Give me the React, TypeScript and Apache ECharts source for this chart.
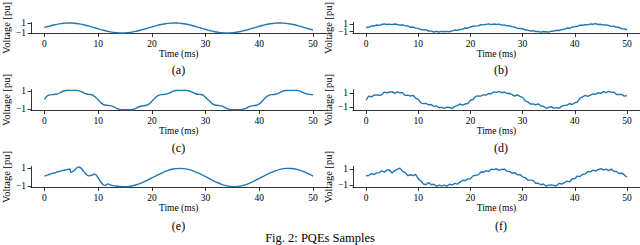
import React, { useEffect, useRef } from "react";
import * as echarts from "echarts";

// sampling instants (ms) for the 0.5 ms series
const times: number[] = Array.from({ length: 101 }, (_, i) => i * 0.5);

const xTicks = [0, 10, 20, 30, 40, 50];
const yTicks = [-1, 0, 1];
const panelLabels = ["(a)", "(b)", "(c)", "(d)", "(e)", "(f)"];
const caption = "Fig. 2: PQEs Samples";

// (a) pure sine
const seriesA = [0.1, 0.25, 0.4, 0.55, 0.67, 0.78, 0.87, 0.94, 0.98, 1.0, 0.99, 0.96, 0.9, 0.82, 0.72, 0.6, 0.46, 0.32, 0.16, 0.0,
  -0.16, -0.32, -0.46, -0.6, -0.72, -0.82, -0.9, -0.96, -0.99, -1.0, -0.98, -0.94, -0.87, -0.78, -0.67, -0.55, -0.4, -0.25, -0.1, 0.06,
  0.22, 0.37, 0.52, 0.65, 0.76, 0.86, 0.93, 0.98, 1.0, 0.99, 0.97, 0.91, 0.84, 0.74, 0.62, 0.49, 0.35, 0.19, 0.03, -0.13,
  -0.28, -0.43, -0.57, -0.7, -0.8, -0.89, -0.95, -0.99, -1.0, -0.99, -0.95, -0.89, -0.8, -0.7, -0.57, -0.43, -0.29, -0.13, 0.03, 0.19,
  0.35, 0.49, 0.62, 0.74, 0.84, 0.91, 0.97, 0.99, 1.0, 0.98, 0.93, 0.86, 0.76, 0.65, 0.52, 0.37, 0.22, 0.06, -0.1, -0.25, -0.4];

// (b) noisy sine
const seriesB = [0.15, 0.19, 0.54, 0.54, 0.8, 0.71, 0.95, 1.12, 0.97, 1.07, 0.92, 1.09, 0.96, 0.77, 0.88, 0.59, 0.55, 0.19, 0.27, -0.02,
  -0.1, -0.43, -0.46, -0.52, -0.82, -0.86, -1.08, -0.92, -1.09, -0.93, -1.04, -0.92, -1.02, -0.78, -0.56, -0.65, -0.4, -0.33, 0.0, -0.05,
  0.28, 0.47, 0.51, 0.58, 0.93, 0.85, 0.98, 1.11, 0.91, 1.1, 1.0, 1.07, 0.79, 0.81, 0.6, 0.64, 0.32, 0.27, -0.09, -0.13,
  -0.2, -0.53, -0.56, -0.83, -0.7, -0.96, -0.95, -1.13, -0.97, -1.02, -1.13, -0.87, -0.85, -0.62, -0.68, -0.43, -0.35, -0.01, -0.08, 0.27,
  0.36, 0.46, 0.76, 0.75, 0.93, 0.84, 1.11, 1.02, 1.18, 0.95, 1.01, 0.8, 0.86, 0.69, 0.45, 0.5, 0.19, 0.15, -0.23, -0.24, -0.48];

// (c) harmonic (flat-top) waveform
const seriesC = [0.05, 0.45, 0.58, 0.62, 0.65, 0.7, 0.85, 1.0, 1.08, 1.1, 1.1, 1.1, 1.1, 1.05, 0.92, 0.75, 0.66, 0.63, 0.55, 0.32,
  0.02, -0.3, -0.52, -0.6, -0.63, -0.68, -0.82, -0.98, -1.07, -1.1, -1.1, -1.1, -1.1, -1.08, -0.97, -0.8, -0.68, -0.64, -0.6, -0.45,
  -0.15, 0.18, 0.45, 0.58, 0.62, 0.65, 0.72, 0.88, 1.02, 1.08, 1.1, 1.1, 1.1, 1.1, 1.03, 0.9, 0.74, 0.66, 0.63, 0.55,
  0.3, 0.0, -0.3, -0.52, -0.6, -0.63, -0.68, -0.83, -0.98, -1.07, -1.1, -1.1, -1.1, -1.1, -1.06, -0.95, -0.78, -0.67, -0.63, -0.6,
  -0.45, -0.15, 0.18, 0.45, 0.58, 0.62, 0.66, 0.75, 0.9, 1.03, 1.08, 1.1, 1.1, 1.1, 1.1, 1.04, 0.9, 0.75, 0.66, 0.63, 0.6];

// (d) noisy harmonic waveform
const seriesD = [-0.01, 0.55, 0.46, 0.67, 0.73, 0.67, 0.75, 1.13, 1.03, 1.11, 1.19, 0.96, 1.16, 1.03, 1.03, 0.66, 0.69, 0.57, 0.67, 0.28,
  0.09, -0.42, -0.52, -0.5, -0.7, -0.64, -0.92, -0.84, -1.1, -1.05, -1.19, -1.02, -1.08, -1.21, -0.91, -0.81, -0.57, -0.72, -0.57, -0.5,
  -0.03, 0.07, 0.52, 0.58, 0.56, 0.75, 0.69, 0.93, 0.9, 1.17, 1.08, 1.23, 1.03, 1.14, 0.93, 0.96, 0.75, 0.57, 0.74, 0.51,
  0.38, -0.13, -0.27, -0.57, -0.55, -0.71, -0.56, -0.86, -0.89, -1.18, -1.06, -0.96, -1.16, -1.08, -1.18, -0.87, -0.77, -0.76, -0.5, -0.64,
  -0.39, -0.29, 0.28, 0.43, 0.65, 0.52, 0.69, 0.86, 0.83, 1.03, 0.95, 1.19, 1.05, 1.22, 1.09, 1.1, 0.79, 0.79, 0.81, 0.55, 0.62];

// (e) transient (own time stamps)
const timesE = [0, 0.5, 1, 1.5, 2, 2.5, 3, 3.5, 4, 4.5, 4.75, 4.9, 5.3, 5.8, 6.3, 6.8, 7.3, 7.8, 8.3, 8.8, 9.3, 9.6, 10, 10.5, 11,
  11.3, 11.8, 12.2, 12.7, 13.5, 14.5, 15.5, 16, 17, 18, 19, 20, 21, 22, 23, 24, 25, 26, 27, 28, 29, 30, 31, 32, 33, 34, 35, 36, 37,
  38, 39, 40, 41, 42, 43, 44, 45, 46, 47, 48, 49, 50];
const seriesE = [0.1, 0.2, 0.3, 0.39, 0.48, 0.57, 0.65, 0.72, 0.79, 0.85, 0.88, 0.5, 0.6, 0.88, 1.1, 0.97, 0.62, 0.28, 0.12, 0.2, 0.3, 0.24, -0.1, -0.55, -0.88,
  -0.92, -0.75, -0.85, -0.95, -1.02, -1.05, -1.05, -1.01, -0.88, -0.67, -0.4, -0.1, 0.21, 0.49, 0.73, 0.88, 0.95, 0.92, 0.8, 0.59, 0.33, 0.03, -0.28, -0.57, -0.8, -0.97, -1.05, -1.03, -0.91,
  -0.72, -0.46, -0.16, 0.15, 0.44, 0.68, 0.86, 0.94, 0.93, 0.83, 0.64, 0.39, 0.09];

// (f) noisy transient
const seriesF = [0.16, 0.19, 0.41, 0.31, 0.51, 0.52, 0.77, 0.61, 0.86, 0.87, 0.49, 0.8, 0.95, 1.1, 0.7, 0.54, 0.16, 0.28, 0.18, 0.32,
  -0.2, -0.49, -0.87, -0.94, -0.69, -0.96, -0.9, -1.15, -1.01, -1.1, -1.0, -1.13, -0.89, -0.99, -0.79, -0.89, -0.63, -0.4, -0.46, -0.23,
  -0.22, 0.14, 0.22, 0.26, 0.62, 0.58, 0.79, 0.67, 0.98, 0.91, 1.02, 0.84, 0.95, 0.98, 0.73, 0.7, 0.46, 0.55, 0.28, 0.3,
  0.02, -0.07, -0.39, -0.39, -0.42, -0.77, -0.78, -0.96, -0.87, -1.14, -1.0, -0.97, -1.06, -1.08, -0.78, -0.87, -0.71, -0.51, -0.6, -0.25,
  -0.18, 0.11, 0.06, 0.33, 0.38, 0.69, 0.64, 0.85, 0.74, 0.91, 1.04, 0.87, 0.97, 0.79, 0.97, 0.71, 0.69, 0.43, 0.47, 0.26, -0.04];

const yLimits: [number, number][] = [
  [-1.1, 1.1], [-1.5, 1.5],
  [-1.2, 1.2], [-1.5, 1.5],
  [-1.15, 1.15], [-1.3, 1.3],
];

const FONT = "Liberation Serif";
const BLUE = "#1f77b4";

export default function App() {
  const ref = useRef<HTMLDivElement>(null);
  useEffect(() => {
    if (!ref.current) return;
    const chart = echarts.init(ref.current, undefined, { renderer: "svg" });
    const colLeft = [30.5, 353];
    const rowTop = [12.5, 89.5, 166.5];
    const W = 296;
    const H = 21;
    const grids: any[] = [];
    const xAxes: any[] = [];
    const yAxes: any[] = [];
    const seriesAll: any[] = [];
    const data: number[][][] = [
      times.map((t, i) => [t, seriesA[i]]),
      times.map((t, i) => [t, seriesB[i]]),
      times.map((t, i) => [t, seriesC[i]]),
      times.map((t, i) => [t, seriesD[i]]),
      timesE.map((t, i) => [t, seriesE[i]]),
      times.map((t, i) => [t, seriesF[i]]),
    ];
    const smoothFor = [0.3, false, 0.3, false, 0.3, false];
    const graphics: any[] = [];
    const labelY = [70, 148, 226];
    for (let k = 0; k < 6; k++) {
      const r = Math.floor(k / 2);
      const c = k % 2;
      grids.push({ left: colLeft[c], top: rowTop[r], width: W, height: H });
      xAxes.push({
        gridIndex: k,
        type: "value",
        min: -2.5,
        max: 52.5,
        name: "Time (ms)",
        nameLocation: "middle",
        nameGap: 14,
        nameTextStyle: { fontFamily: FONT, fontSize: 9.5, fontWeight: "normal", color: "#000" },
        axisLine: { show: true, onZero: false, lineStyle: { color: "#000", width: 0.8 } },
        axisTick: { show: true, length: 3.5, customValues: xTicks, lineStyle: { color: "#000", width: 0.8 } },
        axisLabel: { customValues: xTicks, showMinLabel: true, showMaxLabel: true, hideOverlap: false,
          fontFamily: FONT, fontSize: 9.5, color: "#000", margin: 5 },
        splitLine: { show: false },
      });
      yAxes.push({
        gridIndex: k,
        type: "value",
        min: yLimits[k][0],
        max: yLimits[k][1],
        name: "Voltage [pu]",
        nameLocation: "middle",
        nameGap: 19,
        nameTextStyle: { fontFamily: FONT, fontSize: 10.5, fontWeight: "normal", color: "#000" },
        axisLine: { show: true, onZero: false, lineStyle: { color: "#000", width: 0.8 } },
        axisTick: { show: true, length: 3.5, customValues: yTicks, lineStyle: { color: "#000", width: 0.8 } },
        axisLabel: { customValues: yTicks, showMinLabel: true, showMaxLabel: true, hideOverlap: false,
          fontFamily: FONT, fontSize: 9.5, color: "#000", margin: 5,
          formatter: (v: number) => (v < 0 ? "\u2212" + Math.abs(v) : String(v)) },
        splitLine: { show: false },
      });
      seriesAll.push({
        type: "line",
        xAxisIndex: k,
        yAxisIndex: k,
        data: data[k],
        showSymbol: false,
        smooth: smoothFor[k],
        lineStyle: { color: BLUE, width: 1.4 },
      });
      graphics.push({
        type: "text",
        x: colLeft[c] + W / 2,
        y: labelY[r],
        style: { text: panelLabels[k], fontFamily: FONT, fontSize: 12, fill: "#000", align: "center", verticalAlign: "middle" },
      });
    }
    graphics.push({
      type: "text",
      x: 320,
      y: 238,
      style: { text: caption, fontFamily: FONT, fontSize: 12.5, fill: "#000", align: "center", verticalAlign: "middle" },
    });
    chart.setOption({
      animation: false,
      backgroundColor: "#fff",
      grid: grids,
      xAxis: xAxes,
      yAxis: yAxes,
      series: seriesAll,
      graphic: graphics,
    });
    return () => chart.dispose();
  }, []);
  return <div ref={ref} style={{ position: "fixed", left: 0, top: 0, width: 640, height: 245 }} />;
}
